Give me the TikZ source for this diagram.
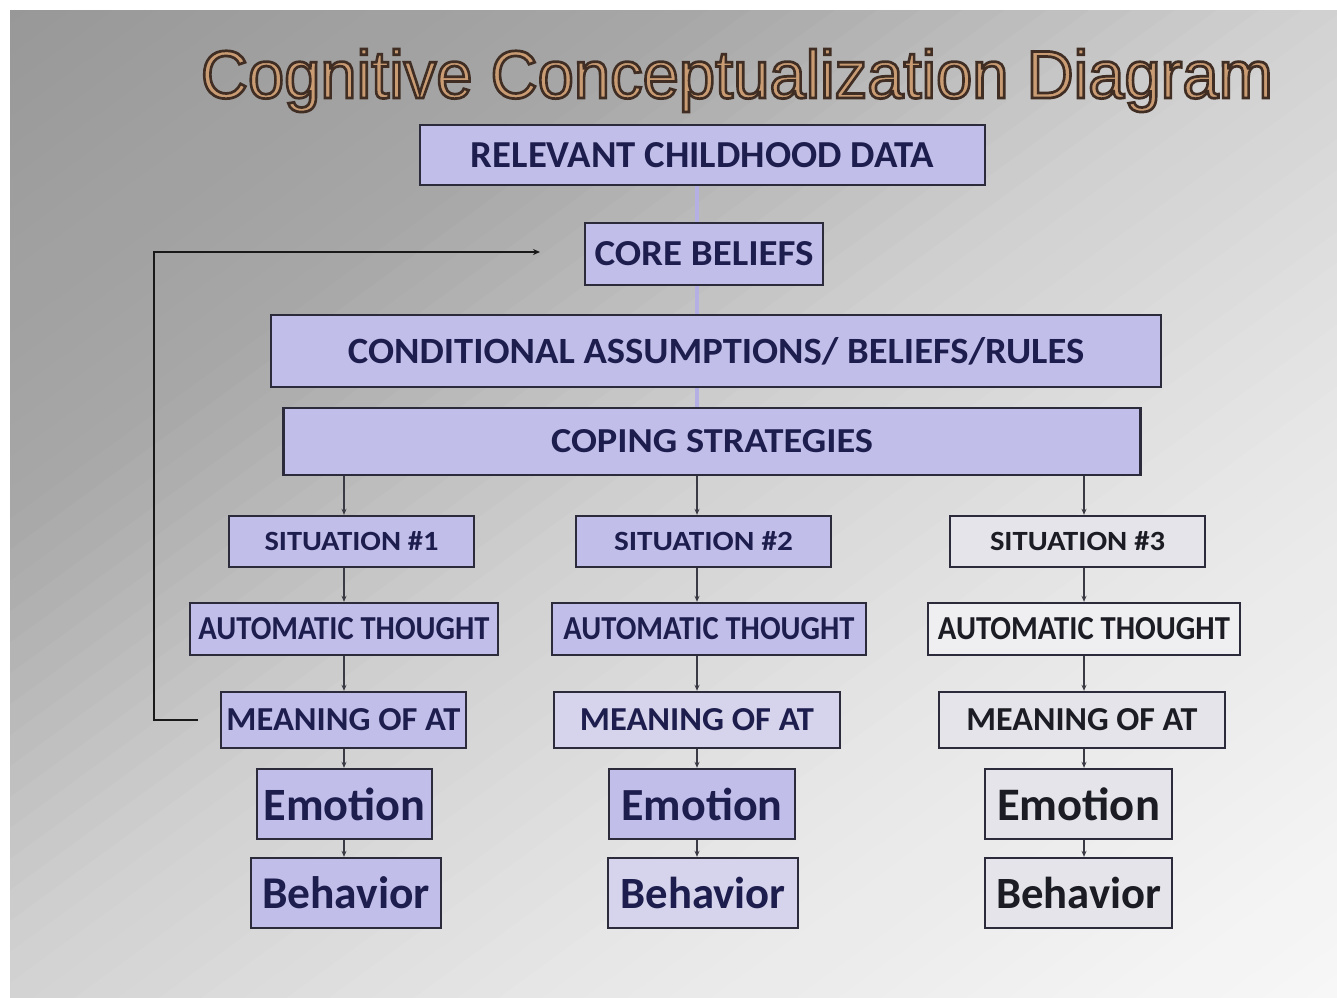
\documentclass[tikz,border=0pt]{standalone}
\usepackage{fontspec}
\usepackage{graphicx}
\newfontfamily\carlito{Carlito}
\newfontfamily\arialf{Liberation Sans}
\usetikzlibrary{arrows.meta}
\definecolor{lav}{HTML}{C2BEEA}
\definecolor{lavlight}{HTML}{D6D4EC}
\definecolor{palegray}{HTML}{E4E4EA}
\definecolor{boxline}{HTML}{2B2B3B}
\definecolor{navy}{HTML}{1E1E4E}
\definecolor{darktext}{HTML}{1C1C24}
\definecolor{spinecol}{HTML}{B4B0E4}
\definecolor{conncol}{HTML}{3A3A44}
\definecolor{titlefill}{HTML}{C99C74}
\newcommand{\capfit}[3]{\resizebox{#1pt}{#2pt}{\carlito\bfseries #3}}
\newcommand{\wordfit}[2]{\resizebox{#1pt}{!}{\carlito\bfseries\fontsize{40}{48}\selectfont #2}}
\newcommand{\titletext}{\resizebox{1072pt}{49pt}{\arialf\special{pdf:literal direct 2 Tr 0.4 w 0.25 0.18 0.14 RG}Cognitive Conceptualization Diagram\special{pdf:literal direct 0 Tr}}}
\tikzset{
  box/.style={draw=boxline, line width=2.4pt, fill=lav, inner sep=0pt, text=navy},
  conn/.style={draw=conncol, line width=1.3pt, -{Stealth[length=6pt,width=5pt]}},
  spine/.style={draw=spinecol, line width=3.5pt},
  fb/.style={draw=black!90, line width=2.2pt, -{Stealth[length=7pt,width=6pt]}}
}
\begin{document}
\begin{tikzpicture}[x=1pt,y=-1pt]
\useasboundingbox (0,0) rectangle (1337,997);
\fill[white] (0,0) rectangle (1337,997);
% background gradient
\begin{scope}
  \clip (10,10) rectangle (1337,997);
  \begin{scope}[rotate=-53.9]
    \foreach \t in {0,25,...,1650}{
      \pgfmathsetmacro\g{\t<420 ? 152+\t/420*16 : (\t<760 ? 168+(\t-420)/340*40 : (\t<1100 ? 208+(\t-760)/340*22 : min(248,230+(\t-1100)/500*18)))}
      \pgfmathsetmacro\p{100*(1-\g/255)}
      \fill[black!\p] (\t,-2500) rectangle (\t+26,2500);
    }
  \end{scope}
\end{scope}

% title
\node[anchor=base, inner sep=0pt, text=titlefill] (title) at (737,98) {\titletext};

% column coordinates
\coordinate (k1) at (344,0);
\coordinate (k2) at (697,0);
\coordinate (k3) at (1084,0);

% top boxes
\node[box, minimum width=565pt, minimum height=60pt] (rcd) at (702.5,155) {\capfit{463}{25}{RELEVANT CHILDHOOD DATA}};
\node[box, minimum width=238pt, minimum height=62pt] (cb) at (704,254) {\capfit{219}{24}{CORE BELIEFS}};
\node[box, minimum width=890pt, minimum height=72pt] (ca) at (716,351) {\capfit{736}{26}{CONDITIONAL ASSUMPTIONS/ BELIEFS/RULES}};
\node[box, minimum width=857pt, minimum height=67pt] (cs) at (712,441.5) {\capfit{322}{23}{COPING STRATEGIES}};

% spine
\draw[spine] (rcd.south -| k2) -- (cb.north -| k2);
\draw[spine] (cb.south -| k2) -- (ca.north -| k2);
\draw[spine] (ca.south -| k2) -- (cs.north -| k2);

% column 1
\node[box, minimum width=245pt, minimum height=51pt] (s1) at (351.5,541.5) {\capfit{174}{19}{SITUATION \#1}};
\node[box, minimum width=308pt, minimum height=52pt] (a1) at (344,629) {\capfit{291}{22}{AUTOMATIC THOUGHT}};
\node[box, minimum width=245pt, minimum height=56pt] (m1) at (343.5,720) {\capfit{234}{22}{MEANING OF AT}};
\node[box, minimum width=175pt, minimum height=70pt] (e1) at (344.5,804) {\wordfit{162}{Emotion}};
\node[box, minimum width=190pt, minimum height=70pt] (b1) at (346,893) {\wordfit{168}{Behavior}};

% column 2
\node[box, minimum width=255pt, minimum height=51pt] (s2) at (703.5,541.5) {\capfit{179}{19}{SITUATION \#2}};
\node[box, minimum width=314pt, minimum height=52pt] (a2) at (709,629) {\capfit{291}{22}{AUTOMATIC THOUGHT}};
\node[box, fill=lavlight, minimum width=286pt, minimum height=56pt] (m2) at (697,720) {\capfit{234}{22}{MEANING OF AT}};
\node[box, minimum width=186pt, minimum height=70pt] (e2) at (702,804) {\wordfit{161}{Emotion}};
\node[box, fill=lavlight, minimum width=190pt, minimum height=70pt] (b2) at (703,893) {\wordfit{165}{Behavior}};

% column 3
\node[box, fill=palegray, text=darktext, minimum width=255pt, minimum height=51pt] (s3) at (1077.5,541.5) {\capfit{175}{19}{SITUATION \#3}};
\node[box, fill=palegray!60!white, text=darktext, minimum width=312pt, minimum height=52pt] (a3) at (1084,629) {\capfit{292}{22}{AUTOMATIC THOUGHT}};
\node[box, fill=palegray, text=darktext, minimum width=286pt, minimum height=56pt] (m3) at (1082,720) {\capfit{231}{22}{MEANING OF AT}};
\node[box, fill=palegray, text=darktext, minimum width=187pt, minimum height=70pt] (e3) at (1078.5,804) {\wordfit{163}{Emotion}};
\node[box, fill=palegray, text=darktext, minimum width=187pt, minimum height=70pt] (b3) at (1078.5,893) {\wordfit{165}{Behavior}};

% connectors
\foreach \k/\s/\a/\m/\e/\b in {k1/s1/a1/m1/e1/b1, k2/s2/a2/m2/e2/b2, k3/s3/a3/m3/e3/b3}{
  \draw[conn] (cs.south -| \k) -- (\s.north -| \k);
  \draw[conn] (\s.south -| \k) -- (\a.north -| \k);
  \draw[conn] (\a.south -| \k) -- (\m.north -| \k);
  \draw[conn] (\m.south -| \k) -- (\e.north -| \k);
  \draw[conn] (\e.south -| \k) -- (\b.north -| \k);
}

% feedback loop
\coordinate (fbend) at (540,252);
\coordinate (fbl) at (154,0);
\draw[fb, shorten <=22pt] (m1.west) -| (fbl |- fbend) -- (fbend);
\end{tikzpicture}
\end{document}
